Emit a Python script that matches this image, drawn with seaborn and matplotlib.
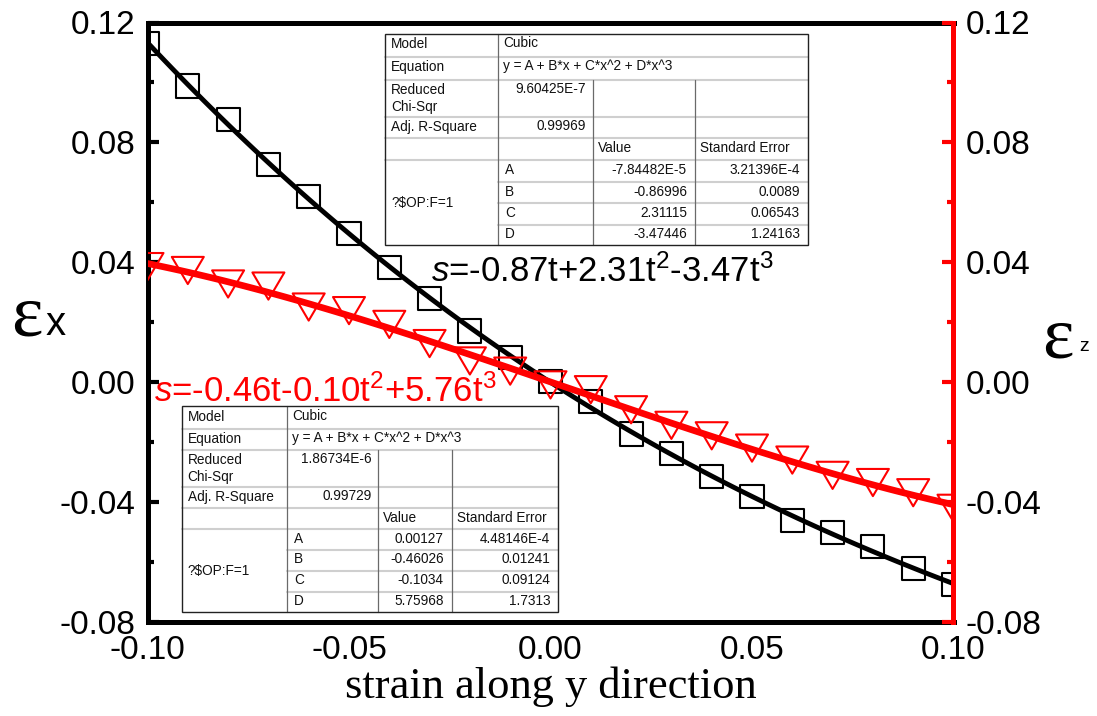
import matplotlib
matplotlib.use("Agg")
import matplotlib.pyplot as plt
import matplotlib.path as mpath
from matplotlib.patches import Rectangle
from matplotlib.ticker import FixedLocator, MultipleLocator, FormatStrFormatter
import seaborn as sns
import numpy as np

# ---------------- data ----------------
strain = [-0.10, -0.09, -0.08, -0.07, -0.06, -0.05, -0.04, -0.03, -0.02, -0.01, 0.00,
          0.01, 0.02, 0.03, 0.04, 0.05, 0.06, 0.07, 0.08, 0.09, 0.10]
eps_x = [0.1129, 0.0988, 0.0875, 0.0726, 0.0618, 0.0494, 0.0382, 0.0280, 0.0170, 0.0083, 0.0001,
         -0.0064, -0.0174, -0.0239, -0.0316, -0.0384, -0.0463, -0.0503, -0.0551, -0.0624, -0.0678]
eps_z = [0.0385, 0.0372, 0.0327, 0.0320, 0.0250, 0.0238, 0.0192, 0.0128, 0.0070, 0.0036, -0.0010,
         -0.0026, -0.0093, -0.0145, -0.0180, -0.0221, -0.0261, -0.0312, -0.0336, -0.0370, -0.0422]

x_ticks = [-0.10, -0.05, 0.00, 0.05, 0.10]
y_ticks = [-0.08, -0.04, 0.00, 0.04, 0.08, 0.12]

eq_x = "$\\mathit{s}$=-0.87t+2.31t$^{2}$-3.47t$^{3}$"
eq_z = "$\\mathit{s}$=-0.46t-0.10t$^{2}$+5.76t$^{3}$"

model_name = "Cubic"
model_equation = "y = A + B*x + C*x^2 + D*x^3"
param_names = ["A", "B", "C", "D"]
fx_chi = "9.60425E-7"
fx_r2 = "0.99969"
fx_values = ["-7.84482E-5", "-0.86996", "2.31115", "-3.47446"]
fx_errors = ["3.21396E-4", "0.0089", "0.06543", "1.24163"]
fz_chi = "1.86734E-6"
fz_r2 = "0.99729"
fz_values = ["0.00127", "-0.46026", "-0.1034", "5.75968"]
fz_errors = ["4.48146E-4", "0.01241", "0.09124", "1.7313"]

# ---------------- style ----------------
sns.set_theme(style="white")
plt.rcParams["font.family"] = ["Liberation Sans", "DejaVu Sans"]
plt.rcParams["axes.unicode_minus"] = False
plt.rcParams["mathtext.fontset"] = "custom"
plt.rcParams["mathtext.rm"] = "Liberation Sans"
plt.rcParams["mathtext.it"] = "Liberation Sans:italic"
plt.rcParams["mathtext.bf"] = "Liberation Sans:bold"
plt.rcParams["text.color"] = "black"
plt.rcParams["axes.labelcolor"] = "black"
plt.rcParams["xtick.color"] = "black"
plt.rcParams["ytick.color"] = "black"

W, H = 1097, 716
fig = plt.figure(figsize=(W / 100, H / 100), dpi=100)
L, R, T, B = 147.5, 953.5, 22.5, 621.5
ax = fig.add_axes([L / W, 1 - B / H, (R - L) / W, (B - T) / H])

# black series (eps_x)
sns.scatterplot(x=strain, y=eps_x, ax=ax, marker="s", s=275, facecolor="none",
                edgecolor="black", linewidth=1.5, zorder=2)
sns.regplot(x=strain, y=eps_x, ax=ax, order=3, ci=None, scatter=False,
            line_kws=dict(color="black", lw=3.5, zorder=3))

# red series (eps_z) on twin axis
ax2 = ax.twinx()
tri = mpath.Path([(-1, 0.85), (1, 0.85), (0, -0.85), (-1, 0.85)], closed=True)
sns.scatterplot(x=strain, y=eps_z, ax=ax2, marker=tri, s=530, facecolor="none",
                edgecolor="#ff0000", linewidth=1.5, zorder=2)
sns.regplot(x=strain, y=eps_z, ax=ax2, order=3, ci=None, scatter=False,
            line_kws=dict(color="#ff0000", lw=4.8, zorder=3))

for a in (ax, ax2):
    a.set_xlim(-0.10, 0.10)
    a.set_ylim(-0.08, 0.12)
    a.set_xlabel("")
    a.set_ylabel("")
    a.grid(False)
    a.yaxis.set_major_locator(FixedLocator(y_ticks))
    a.yaxis.set_minor_locator(MultipleLocator(0.02))
    a.yaxis.set_major_formatter(FormatStrFormatter("%.2f"))

ax.xaxis.set_major_locator(FixedLocator(x_ticks))
ax.xaxis.set_minor_locator(MultipleLocator(0.025))
ax.xaxis.set_major_formatter(FormatStrFormatter("%.2f"))

ax.tick_params(axis="both", which="both", direction="in", top=False, right=False,
               color="black", width=3, labelsize=24, labelcolor="black")
ax.tick_params(axis="y", which="both", pad=9)
ax.tick_params(axis="x", which="both", pad=10)
ax.tick_params(axis="both", which="major", length=8)
ax.tick_params(axis="both", which="minor", length=4)
ax2.tick_params(axis="y", which="both", direction="in", left=False, right=True,
                colors="#ff0000", labelcolor="black", width=3, labelsize=24, pad=9)
ax2.tick_params(axis="y", which="major", length=8)
ax2.tick_params(axis="y", which="minor", length=4)

for s in ("left", "bottom", "top"):
    ax.spines[s].set_color("black")
    ax.spines[s].set_linewidth(3.6)
    ax2.spines[s].set_visible(False)
ax.spines["right"].set_visible(False)
ax2.spines["right"].set_color("#ff0000")
ax2.spines["right"].set_linewidth(3.6)

ax.set_xlabel("strain along y direction", fontsize=32, family="Liberation Serif",
              color="black")
ax.xaxis.set_label_coords(0.5, (B - 698) / (B - T))
ax.xaxis.label.set_va("baseline")

# ---------------- overlay in pixel coordinates ----------------
ov = fig.add_axes([0, 0, 1, 1], zorder=10)
ov.set_xlim(0, W)
ov.set_ylim(H, 0)
ov.axis("off")

# axis titles
ov.text(11, 335, "ε", fontsize=54, family="Liberation Serif", va="baseline", ha="left",
        color="black")
ov.text(46, 335, "x", fontsize=29, va="baseline", ha="left", color="black")
ov.text(1042, 358, "ε", fontsize=54, family="Liberation Serif", va="baseline", ha="left",
        color="black")
ov.text(1079, 351, "z", fontsize=14, va="baseline", ha="left", color="black")

# equations
ov.text(431, 281.5, eq_x, fontsize=25, color="black", va="baseline", ha="left")
ov.text(154, 401.5, eq_z, fontsize=25, color="#ff0000", va="baseline", ha="left")


def draw_table(xe, ye, chi, r2, values, errors):
    fs = 9.8
    ov.add_patch(Rectangle((xe[0], ye[0]), xe[4] - xe[0], ye[9] - ye[0],
                           facecolor="white", edgecolor="none", zorder=1))
    hc, vc = "#cfcfcf", "#6a6a6a"
    for i in range(1, 6):
        ov.plot([xe[0], xe[4]], [ye[i], ye[i]], color=hc, lw=1.5, zorder=2)
    for i in range(6, 9):
        ov.plot([xe[1], xe[4]], [ye[i], ye[i]], color=hc, lw=1.5, zorder=2)
    ov.plot([xe[1], xe[1]], [ye[0], ye[9]], color=vc, lw=0.9, zorder=3)
    for j in (2, 3):
        ov.plot([xe[j], xe[j]], [ye[2], ye[9]], color=vc, lw=0.9, zorder=3)
    ov.add_patch(Rectangle((xe[0], ye[0]), xe[4] - xe[0], ye[9] - ye[0],
                           facecolor="none", edgecolor="#222222", lw=1.0, zorder=4))

    def cy(i):
        return (ye[i] + ye[i + 1]) / 2 - 1.0

    kw = dict(fontsize=fs, zorder=5, color="#111111")
    ov.text(xe[0] + 6, cy(0), "Model", va="center", ha="left", **kw)
    ov.text(xe[1] + 5, cy(0) - 1, model_name, va="center", ha="left", **kw)
    ov.text(xe[0] + 6, cy(1), "Equation", va="center", ha="left", **kw)
    ov.text(xe[1] + 5, cy(1) - 1, model_equation, va="center", ha="left", **kw)
    ov.text(xe[0] + 6, ye[2] + 3, "Reduced\nChi-Sqr", va="top", ha="left",
            linespacing=1.3, **kw)
    ov.text(xe[2] - 7, ye[2] + 2, chi, va="top", ha="right", **kw)
    ov.text(xe[0] + 6, cy(3), "Adj. R-Square", va="center", ha="left", **kw)
    ov.text(xe[2] - 7, cy(3) - 1, r2, va="center", ha="right", **kw)
    ov.text(xe[2] + 5, cy(4), "Value", va="center", ha="left", **kw)
    ov.text(xe[3] + 5, cy(4), "Standard Error", va="center", ha="left", **kw)
    ov.text(xe[0] + 6, (ye[5] + ye[9]) / 2, "?$OP:F=1", va="center", ha="left", **kw)
    for k in range(4):
        ov.text(xe[1] + 7, cy(5 + k), param_names[k], va="center", ha="left", **kw)
        ov.text(xe[3] - 8, cy(5 + k), values[k], va="center", ha="right", **kw)
        ov.text(xe[4] - 8, cy(5 + k), errors[k], va="center", ha="right", **kw)


draw_table([385, 498.3, 593.3, 695, 808],
           [34, 56.7, 80, 117.3, 138.3, 160, 181.7, 203.3, 225, 245],
           fx_chi, fx_r2, fx_values, fx_errors)
draw_table([181.7, 287.3, 378.3, 451.7, 558.3],
           [406, 429.3, 450, 487.3, 508.3, 529.3, 550, 570.7, 591.7, 611.7],
           fz_chi, fz_r2, fz_values, fz_errors)

fig.savefig("out.png", dpi=100)
